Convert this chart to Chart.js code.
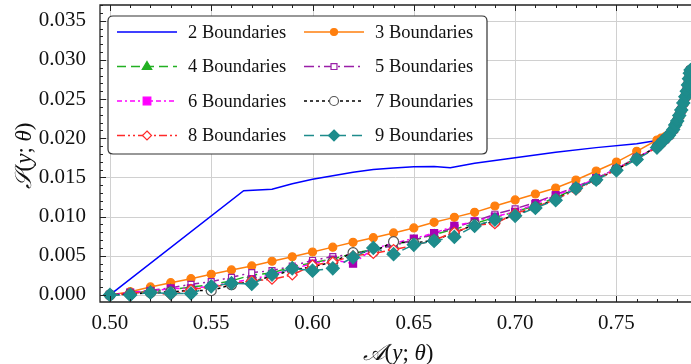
<!DOCTYPE html>
<html><head><meta charset="utf-8">
<script src="https://cdn.jsdelivr.net/npm/chart.js@4"></script>
<style>html,body{margin:0;padding:0;background:#fff;}#wrap{width:691px;height:364px;}</style>
</head><body><div id="wrap"><canvas id="c" width="691" height="364"></canvas></div>
<script>
// ---- data ----
const aGrid = [0.50,0.51,0.52,0.53,0.54,0.55,0.56,0.57,0.58,0.59,0.60,0.61,0.62,0.63,0.64,0.65,0.66,0.67,0.68,0.69,0.70,0.71,0.72,0.73,0.74,0.75,0.76,0.77];
const aTail = [0.772,0.774,0.776,0.778,0.779,0.780,0.781,0.782,0.783,0.784,0.7847,0.7853,0.7858,0.7862,0.7866];
const sTail = [0.0194,0.0199,0.0204,0.0211,0.0217,0.0222,0.0229,0.0236,0.0245,0.0253,0.0260,0.0268,0.0276,0.0283,0.0287];
const sTail3 = [0.0200,0.0202,0.0205,0.0211,0.0217,0.0222,0.0229,0.0236,0.0245,0.0253,0.0260,0.0268,0.0276,0.0283,0.0287];

const aBlue = [0.50,0.566,0.58,0.59,0.60,0.61,0.62,0.63,0.64,0.65,0.66,0.668,0.68,0.70,0.72,0.74,0.76,0.77,0.774,0.776,0.778,0.779,0.780,0.781,0.782,0.783,0.784,0.7847,0.7853,0.7858,0.7862,0.7866];
const sBlue = [0,0.0133,0.01348,0.0142,0.01475,0.0152,0.01565,0.0160,0.0162,0.01637,0.0164,0.01622,0.0168,0.0175,0.0182,0.0188,0.0193,0.0197,0.0201,0.0204,0.0211,0.0217,0.0222,0.0229,0.0236,0.0245,0.0253,0.0260,0.0268,0.0276,0.0283,0.0287];

const s3 = [0,0.00042,0.00102,0.00157,0.00208,0.00264,0.00319,0.0037,0.0043,0.00487,0.00548,0.0061,0.00672,0.00731,0.00791,0.00855,0.00927,0.0099,0.01054,0.01135,0.01212,0.01288,0.01365,0.01467,0.01582,0.01696,0.01833,0.01977];
const s4 = [0,0.0002,0.0005,0.0007,0.0010,0.0013,0.0018,0.00255,0.0028,0.0036,0.0041,0.0046,0.0053,0.0058,0.0064,0.0070,0.0077,0.0084,0.0091,0.0099,0.0106,0.0114,0.0124,0.0136,0.0148,0.0161,0.0175,0.0189];
const s5 = [0,0.0003,0.0006,0.0009,0.00136,0.0017,0.00225,0.00285,0.0031,0.0037,0.0044,0.0049,0.0052,0.0058,0.0063,0.0070,0.0078,0.0086,0.0094,0.0103,0.0110,0.0118,0.0128,0.0138,0.0149,0.0161,0.0175,0.0189];
const s6 = [0,0.0003,0.0005,0.0008,0.00085,0.0011,0.0016,0.0020,0.0026,0.0033,0.0040,0.0045,0.0040,0.0059,0.0066,0.0072,0.0079,0.0088,0.0094,0.0100,0.0106,0.0116,0.0127,0.0137,0.0149,0.0161,0.0175,0.0189];
const s7 = [0,0.0001,0.0003,0.0004,0.0006,0.00055,0.0013,0.0017,0.0024,0.0032,0.0036,0.0042,0.0054,0.0055,0.0068,0.0066,0.0070,0.0079,0.0090,0.0093,0.0102,0.0112,0.0122,0.0136,0.0147,0.0160,0.0174,0.0189];
const s8 = [0,0.0002,0.0004,0.0000,0.0007,0.0010,0.0014,0.0018,0.0020,0.00255,0.0038,0.0042,0.0050,0.0053,0.0058,0.0063,0.0070,0.0080,0.0089,0.0091,0.0104,0.0112,0.0122,0.0134,0.0147,0.0160,0.0174,0.0188];
const s9 = [0,0.0000,0.0003,0.0002,0.0002,0.0011,0.0015,0.0014,0.0026,0.0034,0.0031,0.0034,0.0048,0.0060,0.0052,0.0064,0.0069,0.0074,0.0088,0.0096,0.0101,0.0111,0.0121,0.0136,0.0147,0.0159,0.0173,0.0188];

const seriesNames = ['2 Boundaries','3 Boundaries','4 Boundaries','5 Boundaries','6 Boundaries','7 Boundaries','8 Boundaries','9 Boundaries'];
const xTicks = [0.50,0.55,0.60,0.65,0.70,0.75];
const yTicks = [0.000,0.005,0.010,0.015,0.020,0.025,0.030,0.035];

// ---- build ----
function pts(xs, ys){ return xs.map((x,i)=>({x:x, y:ys[i]})); }
const allX = aGrid.concat(aTail);

const styles = [
  {c:'#0000ff', dash:[], ps:false, r:0, bg:'#0000ff', lr:0},
  {c:'#ff7f0e', dash:[], ps:'circle', r:4, bg:'#ff7f0e', lr:3.5},
  {c:'#22b022', dash:[9,5], ps:'triangle', r:5, bg:'#22b022', lr:5},
  {c:'#9a1fa8', dash:[10,4,2,4], ps:'rect', r:4.2, bg:'#ffffff', lr:3.5},
  {c:'#ff00ff', dash:[5,3,2,3], ps:'rect', r:5, bg:'#ff00ff', lr:4.5, pbg:'#a800b4', pc:'#a800b4'},
  {c:'#000000', dash:[3,3], ps:'circle', r:5, bg:'#ffffff', lr:4.5, pc:'#555555'},
  {c:'#ff2a2a', dash:[8,3,2,3,2,3], ps:'rectRot', r:5, bg:'#ffffff', lr:4.5},
  {c:'#1e8c8c', dash:[10,6], ps:'rectRot', r:6.5, bg:'#1e8c8c', lr:5.5}
];
const dataArrs = [
  pts(aBlue, sBlue),
  pts(allX, s3.concat(sTail3)),
  pts(allX, s4.concat(sTail)),
  pts(allX, s5.concat(sTail)),
  pts(allX, s6.concat(sTail)),
  pts(allX, s7.concat(sTail)),
  pts(allX, s8.concat(sTail)),
  pts(allX, s9.concat(sTail))
];
const datasets = dataArrs.map((d,i)=>{
  const s = styles[i];
  return {
    label: seriesNames[i], data: d, order: 8-i,
    borderColor: s.c, backgroundColor: s.bg, borderWidth: 1.5, borderDash: s.dash,
    pointStyle: s.ps || 'circle', pointRadius: s.r, pointHoverRadius: s.r,
    pointBackgroundColor: s.pbg || s.bg, pointBorderColor: s.pc || s.c, pointBorderWidth: 1.2,
    tension: 0, fill: false
  };
});

const SERIF = '"Liberation Serif", "DejaVu Serif", serif';

function drawMarker(ctx, s, x, y, r){
  if(!s.ps) return;
  ctx.save();
  ctx.setLineDash([]);
  ctx.fillStyle = s.bg; ctx.strokeStyle = (s.pbg ? s.c : (s.pc || s.c)); ctx.lineWidth = 1.2;
  ctx.beginPath();
  if(s.ps==='circle'){ ctx.arc(x,y,r,0,Math.PI*2); }
  else if(s.ps==='rect'){ ctx.rect(x-r*0.85,y-r*0.85,r*1.7,r*1.7); }
  else if(s.ps==='rectRot'){ ctx.moveTo(x,y-r); ctx.lineTo(x+r,y); ctx.lineTo(x,y+r); ctx.lineTo(x-r,y); ctx.closePath(); }
  else if(s.ps==='triangle'){ ctx.moveTo(x,y-r); ctx.lineTo(x+r*0.95,y+r*0.6); ctx.lineTo(x-r*0.95,y+r*0.6); ctx.closePath(); }
  ctx.fill(); ctx.stroke();
  ctx.restore();
}

function drawMath(ctx, parts){
  let w = 0;
  parts.forEach(p=>{ ctx.font = p.f; p.w = ctx.measureText(p.t).width; w += p.w; });
  let x = -w/2;
  parts.forEach(p=>{ ctx.font = p.f; ctx.fillText(p.t, x, 0); x += p.w; });
}
function mathParts(letter, size){
  const up = size+'px '+SERIF, it = 'italic '+size+'px '+SERIF;
  return [
    {t:letter, f:'italic '+size+'px "DejaVu Serif", "DejaVu Sans", "Noto Sans", serif'},
    {t:'(', f:up},{t:'y', f:it},{t:'; ', f:up},{t:'θ', f:it},{t:')', f:up}
  ];
}

const decor = {
  id:'decor',
  beforeDatasetsDraw(chart){
    const ctx = chart.ctx, a = chart.chartArea, W = chart.width;
    const xs = chart.scales.x, ys = chart.scales.y;
    ctx.save();
    ctx.strokeStyle = '#d0d0d0'; ctx.lineWidth = 1; ctx.setLineDash([]);
    ctx.beginPath();
    xTicks.forEach(v=>{ const px = Math.round(xs.getPixelForValue(v))+0.5; ctx.moveTo(px, a.top); ctx.lineTo(px, a.bottom); });
    yTicks.forEach(v=>{ const py = Math.round(ys.getPixelForValue(v))+0.5; ctx.moveTo(a.left, py); ctx.lineTo(W, py); });
    ctx.stroke();
    ctx.restore();
  },
  afterDraw(chart){
    const ctx = chart.ctx, a = chart.chartArea, W = chart.width;
    const xs = chart.scales.x, ys = chart.scales.y;
    ctx.save();
    ctx.strokeStyle = '#222'; ctx.lineWidth = 1; ctx.setLineDash([]);
    ctx.beginPath();
    for(let k=0;k<=40;k++){
      const v = 0.49 + k*0.01; const px = xs.getPixelForValue(v);
      if(px < a.left-0.5 || px > W) continue;
      const m = Math.round(v*100);
      const L = (m%5===0) ? 6 : 3;
      ctx.moveTo(Math.round(px)+0.5, a.bottom); ctx.lineTo(Math.round(px)+0.5, a.bottom-L);
      ctx.moveTo(Math.round(px)+0.5, a.top); ctx.lineTo(Math.round(px)+0.5, a.top+L);
    }
    for(let k=-1;k<=37;k++){
      const v = k*0.001; const py = ys.getPixelForValue(v);
      if(py < a.top-0.5 || py > a.bottom+0.5) continue;
      const L = (k%5===0) ? 6 : 3;
      ctx.moveTo(a.left, Math.round(py)+0.5); ctx.lineTo(a.left+L, Math.round(py)+0.5);
    }
    ctx.stroke();
    ctx.strokeStyle = '#222'; ctx.lineWidth = 1.3;
    ctx.beginPath();
    ctx.moveTo(W, a.top); ctx.lineTo(a.left, a.top); ctx.lineTo(a.left, a.bottom); ctx.lineTo(W, a.bottom);
    ctx.stroke();

    // legend
    const bx=108, by=16, bw=379, bh=138, rad=5;
    ctx.beginPath();
    ctx.moveTo(bx+rad,by); ctx.lineTo(bx+bw-rad,by); ctx.quadraticCurveTo(bx+bw,by,bx+bw,by+rad);
    ctx.lineTo(bx+bw,by+bh-rad); ctx.quadraticCurveTo(bx+bw,by+bh,bx+bw-rad,by+bh);
    ctx.lineTo(bx+rad,by+bh); ctx.quadraticCurveTo(bx,by+bh,bx,by+bh-rad);
    ctx.lineTo(bx,by+rad); ctx.quadraticCurveTo(bx,by,bx+rad,by); ctx.closePath();
    ctx.fillStyle = '#ffffff'; ctx.fill();
    ctx.strokeStyle = '#333'; ctx.lineWidth = 1.2; ctx.stroke();
    const colX = [117, 304], rowY = [32, 66.5, 101, 135.5];
    ctx.font = '18.5px '+SERIF; ctx.textBaseline = 'middle'; ctx.textAlign='left';
    for(let i=0;i<8;i++){
      const s = styles[i];
      const cx = colX[i%2], cy = rowY[Math.floor(i/2)];
      ctx.save();
      ctx.strokeStyle = s.c; ctx.lineWidth = 1.5; ctx.setLineDash(s.dash);
      ctx.beginPath(); ctx.moveTo(cx, cy); ctx.lineTo(cx+60, cy); ctx.stroke();
      ctx.restore();
      drawMarker(ctx, s, cx+30, cy, s.lr);
      ctx.fillStyle = '#111';
      ctx.fillText(seriesNames[i], cx+71, cy+1);
    }
    ctx.fillStyle = '#111'; ctx.textBaseline = 'alphabetic'; ctx.textAlign='left';
    ctx.save(); ctx.translate(398, 360); drawMath(ctx, mathParts('𝒜',23)); ctx.restore();
    ctx.save(); ctx.translate(31, 156); ctx.rotate(-Math.PI/2); drawMath(ctx, mathParts('𝒮',23)); ctx.restore();
    ctx.restore();
  }
};

new Chart(document.getElementById('c'), {
  type:'line',
  data:{datasets},
  options:{
    responsive:false, animation:false, devicePixelRatio:1,
    layout:{autoPadding:false, padding:{top:5,right:0,left:0,bottom:0}},
    plugins:{legend:{display:false}, tooltip:{enabled:false}},
    scales:{
      x:{type:'linear', min:0.4951, max:0.7868,
        afterBuildTicks(s){ s.ticks = xTicks.map(v=>({value:v})); },
        afterFit(s){ s.height = 62; s.paddingLeft = 0; s.paddingRight = 0; },
        grid:{display:false, drawTicks:false},
        border:{display:false},
        ticks:{padding:9, color:'#111', font:{family:SERIF, size:21}, maxRotation:0, callback:v=>v.toFixed(2)}
      },
      y:{type:'linear', min:-0.0009, max:0.0370,
        afterBuildTicks(s){ s.ticks = yTicks.map(v=>({value:v})); },
        afterFit(s){ s.width = 100; s.paddingTop = 0; s.paddingBottom = 0; },
        grid:{display:false, drawTicks:false},
        border:{display:false},
        ticks:{padding:14, color:'#111', font:{family:SERIF, size:21}, callback:v=>v.toFixed(3)}
      }
    }
  },
  plugins:[decor]
});
</script></body></html>
